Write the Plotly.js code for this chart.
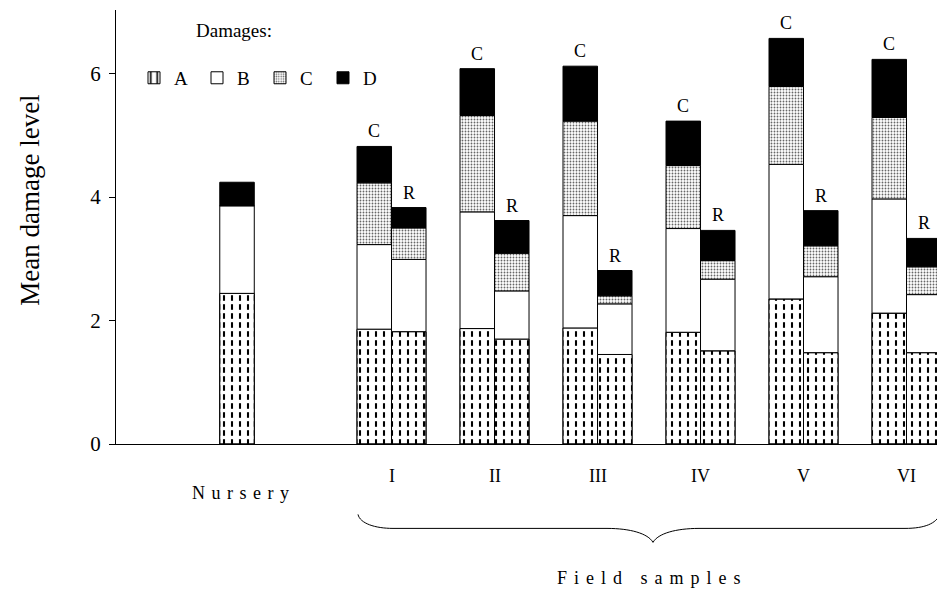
<!DOCTYPE html>
<html>
<head>
<meta charset="utf-8">
<script src="https://cdn.plot.ly/plotly-3.0.1.min.js"></script>
<style>html,body{margin:0;padding:0;background:#fff;}#chart{width:937px;height:592px;}</style>
</head>
<body>
<div id="chart"></div>
<script>
// ---- data ----
const barNames = ['Nursery','I C','I R','II C','II R','III C','III R','IV C','IV R','V C','V R','VI C','VI R'];
const barTags  = ['', 'C','R', 'C','R', 'C','R', 'C','R', 'C','R', 'C','R'];
const groupLabels = ['I','II','III','IV','V','VI'];
const damageA = [2.44, 1.86,1.82, 1.87,1.70, 1.88,1.45, 1.81,1.51, 2.35,1.48, 2.12,1.48];
const damageB = [1.42, 1.37,1.17, 1.89,0.78, 1.82,0.82, 1.68,1.16, 2.18,1.23, 1.85,0.94];
const damageC = [0.00, 1.00,0.51, 1.56,0.61, 1.53,0.13, 1.02,0.30, 1.26,0.50, 1.32,0.45];
const damageD = [0.38, 0.59,0.33, 0.76,0.53, 0.89,0.41, 0.72,0.49, 0.78,0.57, 0.94,0.46];
const yTicks = [0, 2, 4, 6];

// ---- layout helpers ----
const W = 0.335;
const xpos = barNames.map((n, i) => {
  if (i === 0) return -0.5;
  const g = Math.floor((i - 1) / 2) + 1;
  return (i - 1) % 2 === 0 ? g - W / 2 : g + W / 2;
});
const baseB = damageA.slice();
const baseC = damageA.map((a, i) => a + damageB[i]);
const baseD = baseC.map((c, i) => c + damageC[i]);
const totals = baseD.map((d, i) => d + damageD[i]);
const FONT = 'Liberation Serif, Times New Roman, serif';
const outline = {color: '#000', width: 1};
const widths = xpos.map(() => W);

const traces = [
  {type: 'bar', name: 'A', x: xpos, y: damageA, base: 0, width: widths,
   marker: {color: '#fff', line: outline,
            pattern: {shape: '|', fgcolor: '#000', bgcolor: '#fff', size: 8, solidity: 0.26, fillmode: 'replace'}}},
  {type: 'bar', name: 'A-gaps', x: xpos, y: damageA, base: 0, width: widths, showlegend: false,
   marker: {color: 'rgba(0,0,0,0)', line: {width: 0},
            pattern: {shape: '-', fgcolor: '#fff', bgcolor: 'rgba(0,0,0,0)', size: 9, solidity: 0.38, fillmode: 'replace'}}},
  {type: 'bar', name: 'A-edge', x: xpos, y: damageA, base: 0, width: widths, showlegend: false,
   marker: {color: 'rgba(0,0,0,0)', line: outline}},
  {type: 'bar', name: 'B', x: xpos, y: damageB, base: baseB, width: widths,
   marker: {color: '#fff', line: outline}},
  {type: 'bar', name: 'C', x: xpos, y: damageC, base: baseC, width: widths,
   marker: {color: '#fff', line: outline,
            pattern: {shape: '.', fgcolor: '#666', bgcolor: '#fff', size: 3, solidity: 0.3, fillmode: 'replace'}}},
  {type: 'bar', name: 'D', x: xpos, y: damageD, base: baseD, width: widths,
   marker: {color: '#000', line: outline}}
];

const pxX = p => (p - 116) / 821;
const pxY = p => (444.5 - p) / 434.5;

const annotations = [];
barTags.forEach((t, i) => {
  if (!t) return;
  annotations.push({x: xpos[i], y: totals[i], xref: 'x', yref: 'y', text: t, showarrow: false,
    xanchor: 'center', yanchor: 'bottom', yshift: 3, font: {family: FONT, size: 18, color: '#000'}});
});
groupLabels.forEach((g, k) => {
  annotations.push({x: k + 1, y: pxY(477), xref: 'x', yref: 'paper', text: g, showarrow: false,
    xanchor: 'center', yanchor: 'middle', font: {family: FONT, size: 18, color: '#000'}});
});
annotations.push({x: pxX(243), y: pxY(494), xref: 'paper', yref: 'paper',
  text: '<span style="letter-spacing:6.5px">Nursery</span>', showarrow: false,
  xanchor: 'center', yanchor: 'middle', font: {family: FONT, size: 18, color: '#000'}});
annotations.push({x: pxX(652), y: pxY(579), xref: 'paper', yref: 'paper',
  text: '<span style="letter-spacing:7px">Field samples</span>', showarrow: false,
  xanchor: 'center', yanchor: 'middle', font: {family: FONT, size: 18, color: '#000'}});
annotations.push({x: pxX(30), y: pxY(201), xref: 'paper', yref: 'paper', text: 'Mean damage level', showarrow: false,
  xanchor: 'center', yanchor: 'middle', textangle: -90, font: {family: FONT, size: 27, color: '#000'}});
annotations.push({x: pxX(234), y: pxY(31), xref: 'paper', yref: 'paper', text: 'Damages:', showarrow: false,
  xanchor: 'center', yanchor: 'middle', font: {family: FONT, size: 19, color: '#000'}});

const P = (a, b) => pxX(a) + ',' + pxY(b);
const brace = 'M ' + P(358, 515) +
  ' C ' + P(360, 524) + ' ' + P(375, 529) + ' ' + P(393, 529) +
  ' L ' + P(607, 529) +
  ' C ' + P(630, 529) + ' ' + P(648, 534) + ' ' + P(653, 543) +
  ' C ' + P(658, 534) + ' ' + P(676, 529) + ' ' + P(699, 529) +
  ' L ' + P(905, 529) +
  ' C ' + P(925, 529) + ' ' + P(936, 524) + ' ' + P(940, 515);

const layout = {
  width: 937, height: 592,
  margin: {l: 116, r: 0, t: 10, b: 147.5, pad: 0},
  paper_bgcolor: '#fff', plot_bgcolor: '#fff',
  barmode: 'overlay',
  bargap: 0,
  font: {family: FONT, color: '#000'},
  showlegend: true,
  legend: {orientation: 'h', x: pxX(134), xanchor: 'left', y: pxY(78), yanchor: 'middle',
           font: {family: FONT, size: 19, color: '#000'}, entrywidth: 18, entrywidthmode: 'pixels',
           bgcolor: 'rgba(0,0,0,0)', borderwidth: 0, itemclick: false},
  xaxis: {range: [-1.675, 6.296], showline: true, linecolor: '#000', linewidth: 1, ticks: '',
          showticklabels: false, showgrid: false, zeroline: false, fixedrange: true},
  yaxis: {range: [0, 7.03], tickvals: yTicks, ticktext: yTicks.map(String), ticks: 'outside', ticklen: 6,
          tickcolor: '#000', showline: true, linecolor: '#000', linewidth: 1, showgrid: false, zeroline: false,
          ticklabelstandoff: 4,
          tickfont: {family: FONT, size: 21, color: '#000'}, fixedrange: true},
  annotations: annotations,
  shapes: [{type: 'path', xref: 'paper', yref: 'paper', path: brace, line: {color: '#000', width: 1}}]
};

Plotly.newPlot('chart', traces, layout, {staticPlot: true, displayModeBar: false});
</script>
</body>
</html>
